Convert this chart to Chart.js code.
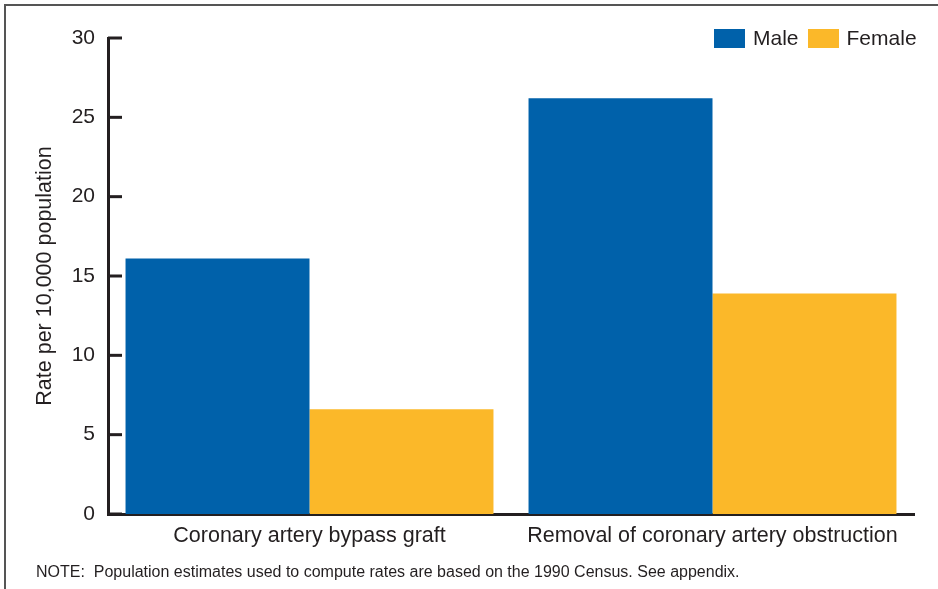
<!DOCTYPE html>
<html>
<head>
<meta charset="utf-8">
<script src="https://cdn.jsdelivr.net/npm/chart.js@4.4.1/dist/chart.umd.min.js"></script>
<style>
  html, body { margin: 0; padding: 0; background: #fff; }
  #wrap { position: relative; width: 938px; height: 589px; overflow: hidden; font-family: "Liberation Sans", Arial, sans-serif; color: #231f20; }
  #frame { position: absolute; left: 4px; top: 4px; width: 960px; height: 620px; border: 2px solid #555; }
  #chart { position: absolute; left: 0; top: 0; }
  #legend { position: absolute; top: 26px; left: 714px; display: flex; align-items: center; font-size: 21px; }
  #legend span.box { display: inline-block; width: 31px; height: 19px; margin-right: 8px; }
  #legend span.lbl { margin-right: 9px; }
  #note { position: absolute; left: 36px; top: 563px; font-size: 16px; white-space: pre; }
</style>
</head>
<body>
<div id="wrap">
  <div id="frame"></div>
  <canvas id="chart" width="938" height="589"></canvas>
  <div id="legend"></div>
  <div id="note">NOTE:  Population estimates used to compute rates are based on the 1990 Census. See appendix.</div>
</div>
<script>
const categories = ['Coronary artery bypass graft', 'Removal of coronary artery obstruction'];
const maleValues = [16.1, 26.2];
const femaleValues = [6.6, 13.9];
const yTicks = [0, 5, 10, 15, 20, 25, 30];

const ink = '#231f20';

// draw the y tick marks pointing into the plot, like the original
const innerTicks = {
  id: 'innerTicks',
  afterDraw(chart) {
    const y = chart.scales.y;
    const ctx = chart.ctx;
    ctx.save();
    ctx.strokeStyle = ink;
    ctx.lineWidth = 3;
    yTicks.forEach((v) => {
      const py = y.getPixelForValue(v);
      ctx.beginPath();
      ctx.moveTo(y.right, py);
      ctx.lineTo(y.right + 14, py);
      ctx.stroke();
    });
    ctx.restore();
  }
};

const chart = new Chart(document.getElementById('chart'), {
  type: 'bar',
  data: {
    labels: categories,
    datasets: [
      { label: 'Male', data: maleValues, backgroundColor: '#0061aa' },
      { label: 'Female', data: femaleValues, backgroundColor: '#fbb829' }
    ]
  },
  options: {
    responsive: false,
    animation: false,
    layout: { padding: { left: 28, top: 38, right: 24, bottom: 0 } },
    datasets: { bar: { categoryPercentage: 0.913, barPercentage: 1 } },
    plugins: { legend: { display: false }, tooltip: { enabled: false } },
    scales: {
      x: {
        afterFit: (s) => { s.height = 75; },
        grid: { display: false, drawTicks: false },
        border: { display: true, color: ink, width: 3 },
        ticks: { color: ink, padding: 9, font: { family: 'Liberation Sans', size: 21.5 } }
      },
      y: {
        min: 0,
        max: 30,
        afterFit: (s) => { s.width = 108 - 28; },
        afterBuildTicks: (s) => { s.ticks = yTicks.map((v) => ({ value: v })); },
        grid: { display: false, drawTicks: false },
        border: { display: true, color: ink, width: 3 },
        ticks: { color: ink, padding: 13, font: { family: 'Liberation Sans', size: 21 } },
        title: { display: true, text: 'Rate per 10,000 population', color: ink, font: { family: 'Liberation Sans', size: 21.5 } }
      }
    }
  },
  plugins: [innerTicks]
});

// legend in the top right corner, from the dataset labels and colours
const legend = document.getElementById('legend');
chart.data.datasets.forEach((ds) => {
  const box = document.createElement('span');
  box.className = 'box';
  box.style.background = ds.backgroundColor;
  const lbl = document.createElement('span');
  lbl.className = 'lbl';
  lbl.textContent = ds.label;
  legend.appendChild(box);
  legend.appendChild(lbl);
});
</script>
</body>
</html>
